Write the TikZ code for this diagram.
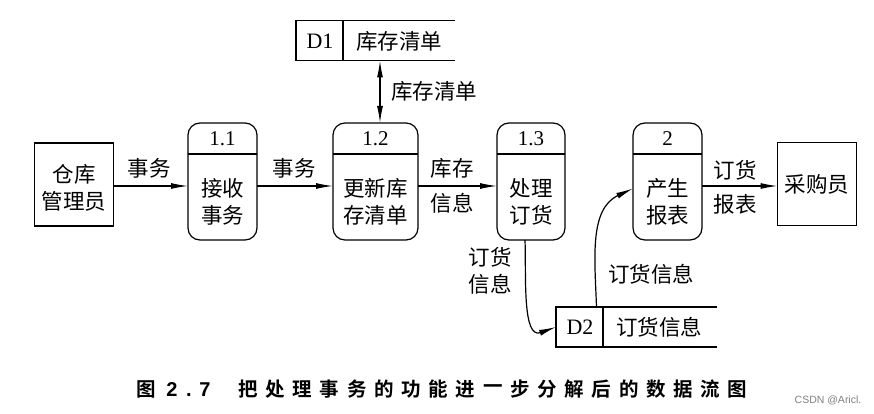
\documentclass[tikz,border=0pt]{standalone}
\usepackage{fontspec}
\setmainfont{Liberation Serif}
\newfontfamily\cjk{Noto Sans CJK SC}
\newfontfamily\cjkb{Noto Sans CJK SC Bold}
\newfontfamily\capsans{Liberation Sans}
\usetikzlibrary{arrows.meta}
\begin{document}
\begin{tikzpicture}[x=1pt,y=-1pt,
  every node/.style={inner sep=0pt, outer sep=0pt},
  lbl/.style={font=\cjk\fontsize{21.5}{27}\selectfont, align=center},
  num/.style={font=\fontsize{21}{22}\selectfont},
  captext/.style={font=\cjkb\fontsize{19.5}{20}\selectfont},
  capnum/.style={font=\capsans\bfseries\fontsize{20}{20}\selectfont, anchor=base},
  proc/.style={draw, line width=1.2pt, rounded corners=12pt, minimum height=117pt},
  ext/.style={draw, line width=1.2pt, minimum width=79pt, minimum height=83pt},
  flow/.style={line width=1.2pt, -{Latex[length=17pt,width=6pt]}},
  both/.style={line width=1.2pt, {Latex[length=17pt,width=6pt]}-{Latex[length=17pt,width=6pt]}},
  store/.style={minimum height=40pt},
  lw/.style={line width=1.2pt}]
\useasboundingbox (0,0) rectangle (874,414);
% external entities
\node[ext] (wm) at (74,184.5) {};
\node[lbl] (wmt) at (74,188) {仓库\\管理员};
\node[ext] (cg) at (817,184) {};
\node[lbl] (cgt) at (817,184) {采购员};
% processes
\node[proc, minimum width=69pt] (p11) at (222.5,181.5) {};
\node[proc, minimum width=85pt] (p12) at (375.5,181.5) {};
\node[proc, minimum width=68pt] (p13) at (531,181.5) {};
\node[proc, minimum width=69pt] (p2) at (667.5,181.5) {};
\foreach \p in {p11,p12,p13,p2}{
  \draw[lw] (\p.west |- 0,154) -- (\p.east |- 0,154);
}
\node[num] (n11) at (222.5,139) {1.1};
\node[num] (n12) at (375.5,139) {1.2};
\node[num] (n13) at (531,139) {1.3};
\node[num] (n2) at (667.5,139) {2};
\node[lbl] (t11) at (222.5,202) {接收\\事务};
\node[lbl] (t12) at (375.5,202) {更新库\\存清单};
\node[lbl] (t13) at (531,202) {处理\\订货};
\node[lbl] (t2) at (667.5,202) {产生\\报表};
% data stores
\node[store, minimum width=159pt] (d1) at (375.5,40.5) {};
\draw[lw] (d1.north east) -- (d1.north west) -- (d1.south west) -- (d1.south east);
\draw[lw] ([xshift=47pt]d1.north west) -- ([xshift=47pt]d1.south west);
\node[num, font=\fontsize{22}{22}\selectfont] (d1n) at (320,41) {D1};
\node[lbl] (d1t) at (399,41) {库存清单};
\node[store, minimum width=161pt] (d2) at (636.5,327) {};
\draw[lw] (d2.north east) -- (d2.north west) -- (d2.south west) -- (d2.south east);
\draw[lw] ([xshift=47pt]d2.north west) -- ([xshift=47pt]d2.south west);
\node[num, font=\fontsize{22}{22}\selectfont] (d2n) at (580,327) {D2};
\node[lbl] (d2t) at (659,327) {订货信息};
% flows
\draw[flow] (wm.east |- 0,186) -- (p11.west |- 0,186);
\node[lbl] (f1) at (149,168) {事务};
\draw[flow] (p11.east |- 0,186) -- (p12.west |- 0,186);
\node[lbl] (f2) at (294,168) {事务};
\draw[flow] (p12.east |- 0,186) -- (p13.west |- 0,186);
\node[lbl] (f3a) at (452,168) {库存};
\node[lbl] (f3b) at (452,203) {信息};
\draw[flow] (p2.east |- 0,186) -- (cg.west |- 0,186);
\node[lbl] (f4a) at (735,170) {订货};
\node[lbl] (f4b) at (735,204) {报表};
\draw[both] ([xshift=4.5pt]d1.south) -- ([xshift=4.5pt]p12.north);
\node[lbl] (f5) at (434,91) {库存清单};
\draw[flow] ([xshift=-6pt]p13.south) to[out=-88,in=200] (d2.west);
\node[lbl] (f6) at (490,271) {订货\\信息};
\draw[flow] ([xshift=-40pt]d2.north) to[out=92,in=205] ([yshift=-7pt]p2.west);
\node[lbl] (f7) at (651,274) {订货信息};
% caption
\node[captext] (c0) at (146,389) {图};
\node[capnum] (c2a) at (172,396.5) {2};
\node[capnum] (c2b) at (189,396.5) {.};
\node[capnum] (c2c) at (205,396.5) {7};
\foreach \c [count=\i] in {把,处,理,事,务,的,功,能,进,一,步,分,解,后,的,数,据,流,图}
  \node[captext] (cc\i) at ({248+(\i-1)*27.2},389) {\c};
\node[font=\capsans\fontsize{10.5}{12}\selectfont, text=gray] (wmk) at (828,400) {CSDN @Aricl.};
\end{tikzpicture}
\end{document}
